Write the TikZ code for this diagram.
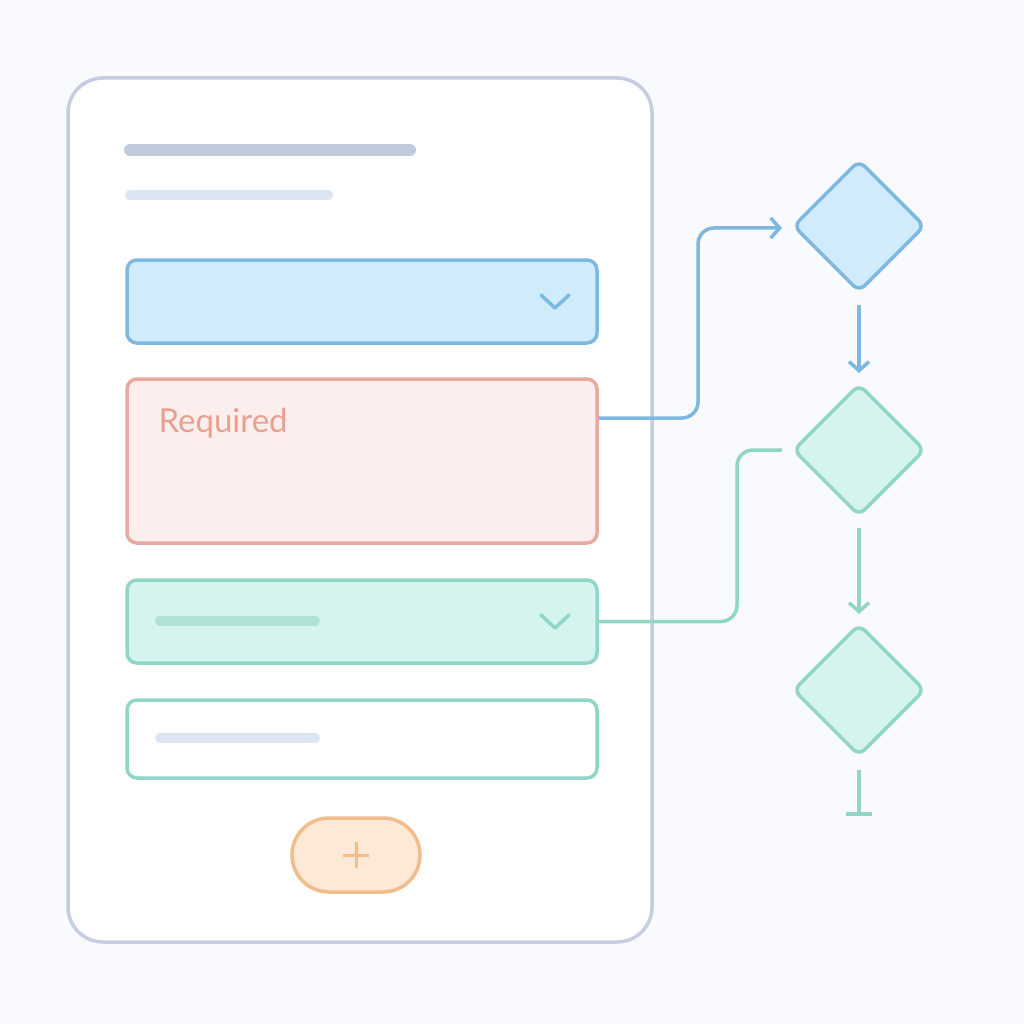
\documentclass[tikz,border=0pt]{standalone}
\usepackage{fontspec}
\setmainfont{Lato}
\usetikzlibrary{shapes.geometric,arrows.meta}
\definecolor{bgc}{HTML}{F9FAFD}
\definecolor{cardline}{HTML}{C5CDE0}
\definecolor{bluefill}{HTML}{D0EBFB}
\definecolor{blueline}{HTML}{7DB8E0}
\definecolor{redfill}{HTML}{FDEEEE}
\definecolor{redline}{HTML}{E8A9A0}
\definecolor{redtext}{HTML}{E9A090}
\definecolor{greenfill}{HTML}{D5F3EF}
\definecolor{greenline}{HTML}{8FD6C6}
\definecolor{greenbar}{HTML}{B0E0D6}
\definecolor{titlebar}{HTML}{C0CCDD}
\definecolor{subbar}{HTML}{DCE6F2}
\definecolor{orangefill}{HTML}{FDE9D6}
\definecolor{orangeline}{HTML}{F2BD8C}
\tikzset{
  field/.style={draw, line width=3.5pt, rounded corners=10pt, minimum width=470pt, inner sep=0pt},
  choice/.style={diamond, draw, line width=3.5pt, rounded corners=8pt, minimum width=132pt, minimum height=132pt, inner sep=0pt},
  link/.style={line width=3.5pt, rounded corners=16pt},
  tip/.style={-{Straight Barb[length=9pt,width=20pt,line width=3.5pt]}},
  bar/.style={line cap=round}
}
\begin{document}
\begin{tikzpicture}[x=1pt,y=-1pt]
  \fill[bgc] (0,0) rectangle (1024,1024);
  % form card
  \draw[cardline, fill=white, line width=3.5pt, rounded corners=35pt] (68,78) rectangle (652,942);
  \draw[bar, titlebar, line width=12pt] (130,150) -- (410,150);
  \draw[bar, subbar, line width=10pt] (130,195) -- (328,195);
  % fields
  \node[field, blueline, fill=bluefill, minimum height=83pt] (select) at (362,301.5) {};
  \draw[blueline, line width=3.5pt, line cap=round, line join=round] (541,295) -- (555,308) -- (569,295);
  \node[field, redline, fill=redfill, minimum height=164pt] (required) at (362,461) {};
  \node[redtext, anchor=west, font=\fontsize{33}{33}\selectfont] (reqtext) at (155,423) {Required};
  \node[field, greenline, fill=greenfill, minimum height=83pt] (option) at (362,621.5) {};
  \draw[bar, greenbar, line width=10pt] (160,621) -- (315,621);
  \draw[greenline, line width=3.5pt, line cap=round, line join=round] (541,615) -- (555,628) -- (569,615);
  \node[field, greenline, fill=white, minimum height=78pt] (input) at (362,739) {};
  \draw[bar, subbar, line width=10pt] (160,738) -- (315,738);
  % add button
  \node[draw, orangeline, fill=orangefill, line width=3.5pt, rounded corners=37pt,
        minimum width=128pt, minimum height=74pt] (add) at (356,855) {};
  \draw[orangeline, line width=3pt] (343,855) -- (369,855) (356,842) -- (356,868);
  % flow
  \node[choice, blueline, fill=bluefill] (d1) at (859,226) {};
  \node[choice, greenline, fill=greenfill] (d2) at (859,450) {};
  \node[choice, greenline, fill=greenfill] (d3) at (859,690) {};
  \draw[link, blueline, tip] (required.east |- 0,418) -| (698,228) -- (782,228);
  \draw[link, greenline] (option.east) -| (737,450) -- (782,450);
  \draw[blueline, line width=3.5pt, tip] (859,305) -- (859,373);
  \draw[greenline, line width=3.5pt, tip] (859,528) -- (859,614);
  \draw[greenline, line width=3.5pt] (859,770) -- (859,814) (846,814) -- (872,814);
\end{tikzpicture}
\end{document}
